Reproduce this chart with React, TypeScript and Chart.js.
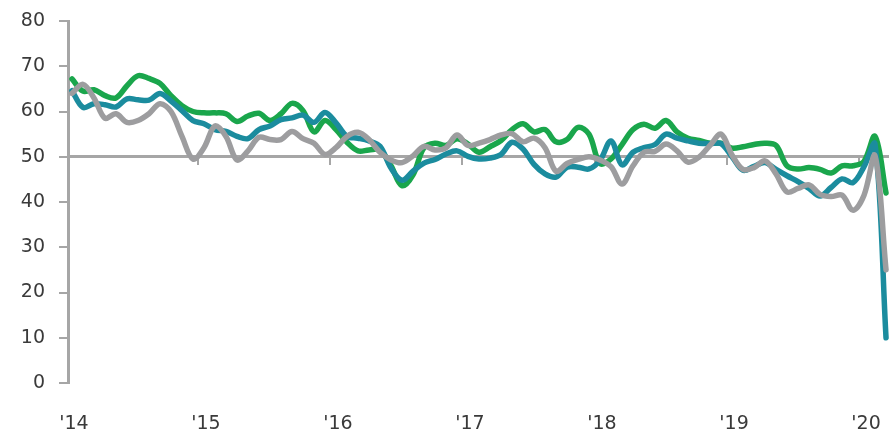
import React, { useEffect, useRef } from 'react';
import { Chart, registerables } from 'chart.js';

Chart.register(...registerables);

// Monthly index readings, January 2014 (month 0) to March 2020 (month 74)
const yearLabels = ["'14", "'15", "'16", "'17", "'18", "'19", "'20"];
const yearStarts = [0, 12, 24, 36, 48, 60, 72];

const greenSeries = [
  67.2, 64.5, 64.8, 63.5, 63, 65.7, 67.9, 67.3, 66.2, 63.5, 61.3, 60,
  59.7, 59.7, 59.5, 57.8, 59, 59.6, 58, 59.5, 61.8, 60.2, 55.5, 58,
  56, 53.2, 51.3, 51.5, 51.5, 48, 43.6, 46, 52, 53, 52.5, 54,
  52.8, 51, 52.2, 53.6, 56, 57.3, 55.5, 56, 53.3, 53.8, 56.5, 55,
  48.5, 49.5, 52.7, 56, 57.2, 56.3, 58, 55.5, 54.1, 53.6, 53, 53,
  51.9, 52.2, 52.7, 53, 52.5, 48, 47.3, 47.6, 47.2, 46.4, 48, 48,
  49, 54.5, 42,
];

const tealSeries = [
  64.6, 60.9, 61.7, 61.5, 61, 62.8, 62.6, 62.5, 64, 62.3, 60.2, 58,
  57.3, 56, 55.6, 54.5, 54, 56, 56.8, 58.2, 58.6, 59.2, 57.6, 59.8,
  57.5, 54.5, 54.1, 53.5, 52.3, 47.5, 44.8, 46.8, 48.6, 49.4, 50.6, 51.3,
  50.1, 49.5, 49.7, 50.5, 53.2, 51.7, 48.3, 46.2, 45.5, 47.7, 47.7, 47.3,
  49.2, 53.5, 48.2, 51, 52, 52.7, 55, 54.1, 53.5, 53, 52.9, 52.9,
  50, 47, 47.9, 48.7, 47.2, 45.8, 44.5, 43, 41.3, 43.2, 45.1, 44.3,
  47.8, 52.8, 10,
];

const graySeries = [
  64, 66, 63, 58.5, 59.5, 57.6, 58, 59.5, 61.7, 60, 54.5, 49.5,
  52, 56.8, 54.5, 49.3, 51.3, 54.3, 53.8, 53.8, 55.6, 54, 53, 50.5,
  52, 54.5, 55.4, 53.8, 51, 49.3, 48.7, 50.2, 52.3, 51.5, 52, 54.8,
  52.5, 53, 53.8, 54.8, 55.1, 53.3, 54.1, 52, 46.8, 48.5, 49.4, 50,
  49.3, 47.8, 44, 48, 51, 51.2, 52.8, 51.3, 48.8, 49.9, 52.5, 55,
  50.4, 47.2, 47.6, 49.1, 46.2, 42.2, 43, 43.8, 41.7, 41.2, 41.5, 38.2,
  41.5, 50.2, 25,
];

const yTickValues = [0, 10, 20, 30, 40, 50, 60, 70, 80];
const referenceLevel = 50;

const X_MIN = -0.36;
const X_MAX = 74.27;

const AXIS_GREY = '#a6a6a6';
const TEXT_COLOR = '#3a3a3a';
const FONT = { family: '"DejaVu Sans", Verdana, sans-serif', size: 19 };

const toPoints = (values: number[]) => values.map((y, x) => ({ x, y }));

// Year labels sit on January; the tick marks on the 50 line sit between December and January
const setYearLabelTicks = (scale: any) => {
  scale.ticks = yearStarts.map((value) => ({ value }));
};
const setYearBoundaryTicks = (scale: any) => {
  scale.ticks = yearStarts.slice(1).map((value) => ({ value: value - 0.5 }));
};
const noSidePadding = (scale: any) => {
  scale.paddingLeft = 0;
  scale.paddingRight = 0;
};

export default function App() {
  const canvasRef = useRef<HTMLCanvasElement | null>(null);

  useEffect(() => {
    document.body.style.margin = '0';
    const canvas = canvasRef.current;
    if (!canvas) return;

    const lineStyle = {
      borderWidth: 5.5,
      pointRadius: 0,
      tension: 0.35,
      fill: false,
      borderCapStyle: 'round',
      borderJoinStyle: 'round',
      xAxisID: 'x',
      yAxisID: 'y',
    };

    const chart = new Chart(canvas, {
      type: 'line',
      data: {
        datasets: [
          { ...lineStyle, label: 'green', data: toPoints(greenSeries), borderColor: '#1aa64c', order: 3 },
          { ...lineStyle, label: 'teal', data: toPoints(tealSeries), borderColor: '#1b8c9e', order: 2 },
          { ...lineStyle, label: 'grey', data: toPoints(graySeries), borderColor: '#9d9d9f', order: 1 },
        ],
      },
      options: {
        responsive: false,
        animation: false,
        layout: { padding: { left: 18, top: 0, right: 0, bottom: 0 } },
        plugins: {
          legend: { display: false },
          tooltip: { enabled: false },
        },
        scales: {
          x: {
            type: 'linear',
            position: 'bottom',
            min: X_MIN,
            max: X_MAX,
            border: { display: false },
            grid: { display: false },
            afterBuildTicks: setYearLabelTicks,
            afterFit: (scale: any) => {
              scale.height = 52;
              noSidePadding(scale);
            },
            ticks: {
              autoSkip: false,
              maxRotation: 0,
              padding: 22,
              labelOffset: 2,
              color: TEXT_COLOR,
              font: FONT,
              callback: (v: any) => {
                const i = yearStarts.indexOf(Number(v));
                return i >= 0 ? yearLabels[i] : '';
              },
            },
          },
          mid: {
            type: 'linear',
            axis: 'x',
            position: { y: referenceLevel },
            min: X_MIN,
            max: X_MAX,
            border: { display: true, color: AXIS_GREY, width: 3 },
            grid: { drawOnChartArea: false, drawTicks: true, tickLength: 7, color: AXIS_GREY, lineWidth: 2 },
            afterBuildTicks: setYearBoundaryTicks,
            afterFit: (scale: any) => {
              scale.height = 0;
              noSidePadding(scale);
            },
            ticks: { display: false },
          },
          y: {
            type: 'linear',
            min: 0,
            max: 80,
            afterBuildTicks: (scale: any) => {
              scale.ticks = yTickValues.map((value) => ({ value }));
            },
            afterFit: (scale: any) => {
              scale.width = 50;
              scale.paddingTop = 21;
              scale.paddingBottom = 0;
            },
            border: { display: true, color: AXIS_GREY, width: 3 },
            grid: { drawOnChartArea: false, drawTicks: true, tickLength: 9, color: AXIS_GREY, lineWidth: 2 },
            ticks: { padding: 14, color: TEXT_COLOR, font: FONT },
          },
        },
      } as any,
    });

    return () => chart.destroy();
  }, []);

  return (
    <div style={{ width: 889, height: 435, background: '#fff' }}>
      <canvas ref={canvasRef} width={889} height={435} style={{ display: 'block' }} />
    </div>
  );
}
